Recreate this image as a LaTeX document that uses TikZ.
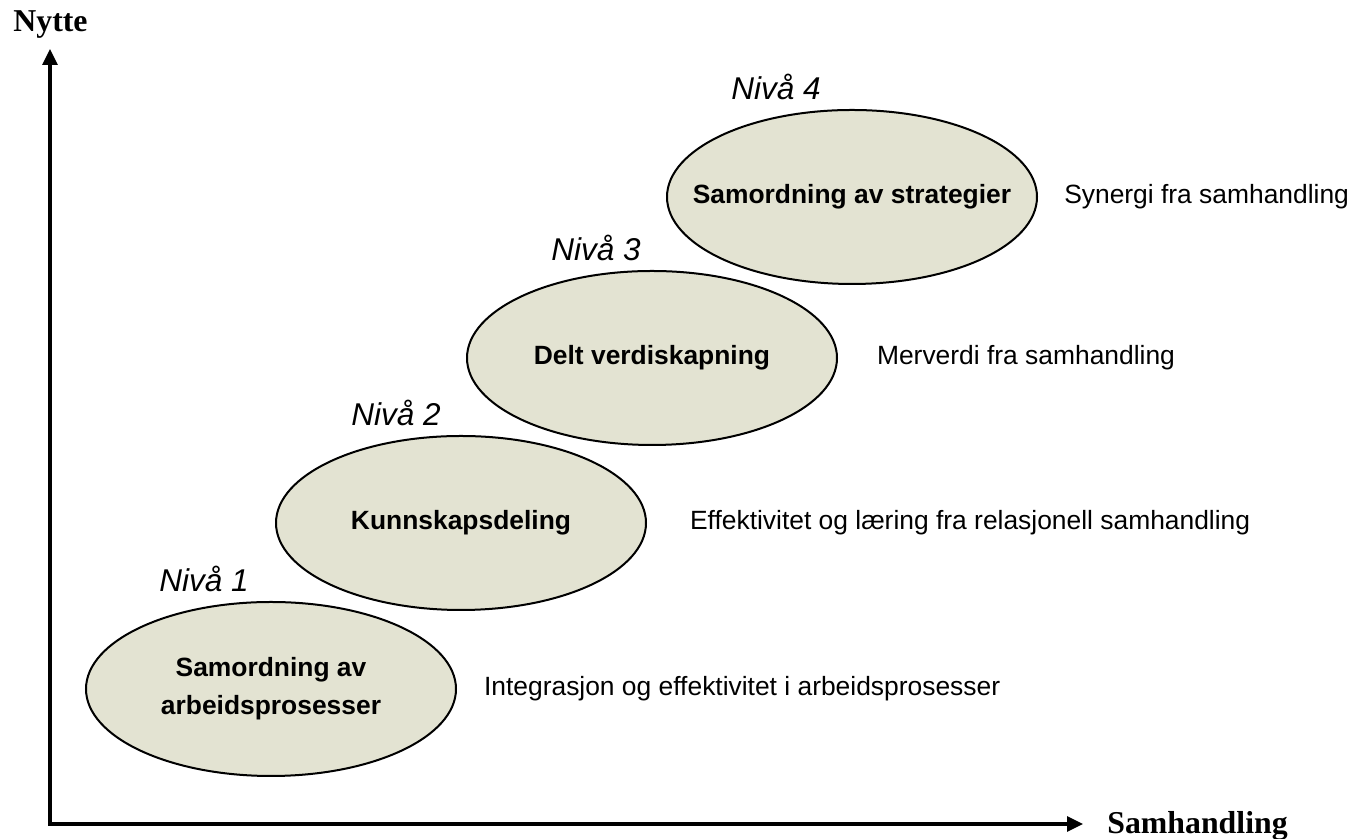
\documentclass[tikz,border=0pt]{standalone}
\usepackage{fontspec}
\setmainfont{Liberation Sans}
\newfontfamily\axisfont{Liberation Serif}
\usetikzlibrary{arrows.meta,shapes.geometric,positioning}
\definecolor{levelfill}{RGB}{227,227,210}
\tikzstyle{line} = [draw, line width=1.6pt, {Triangle[length=8pt,width=7.5pt]}-{Triangle[length=8pt,width=7.5pt]}]
\tikzstyle{level} = [ellipse, draw, line width=1pt, fill=levelfill, minimum width=185pt, minimum height=87pt, inner sep=0pt]
\tikzstyle{levelname} = [align=center, font=\bfseries\fontsize{13.2}{19}\selectfont]
\tikzstyle{niva} = [anchor=base west, inner sep=0pt, font=\itshape\fontsize{15.75}{19}\selectfont]
\tikzstyle{gain} = [font=\fontsize{13.2}{16}\selectfont]
\tikzstyle{axislabel} = [anchor=base west, inner sep=0pt, font=\axisfont\bfseries\fontsize{15.9}{19}\selectfont]

\begin{document}
\begin{tikzpicture}[x=0.5pt,y=0.5pt]
        \useasboundingbox (0,0) rectangle (1355,839);
        % axes
        \coordinate (o) at (50,15);
        \coordinate (yt) at (50,790);
        \coordinate (xt) at (1083,15);
        \draw [line] (yt) -- (o) -- (xt);
        \node [axislabel] (n) at (13,807) {Nytte};
        \node [axislabel] (s) at (1107,5) {Samhandling};
        % levels
        \node [level] (1) at (271,150) {};
        \node [level] (2) at (461,316) {};
        \node [level] (3) at (652,481) {};
        \node [level] (4) at (852,642) {};
        \node [levelname] (t1) at (1) {Samordning av\\arbeidsprosesser};
        \node [levelname] (t2) at (2) {Kunnskapsdeling};
        \node [levelname] (t3) at (3) {Delt verdiskapning};
        \node [levelname] (t4) at (4) {Samordning av strategier};
        \node [niva] (l1) at (159,247) {Nivå 1};
        \node [niva] (l2) at (351,413) {Nivå 2};
        \node [niva] (l3) at (551,578) {Nivå 3};
        \node [niva] (l4) at (731,739) {Nivå 4};
        % gains
        \node [gain, right = 10pt of 1] (g1) {Integrasjon og effektivitet i arbeidsprosesser};
        \node [gain, right = 18pt of 2] (g2) {Effektivitet og læring fra relasjonell samhandling};
        \node [gain, right = 16pt of 3] (g3) {Merverdi fra samhandling};
        \node [gain, right = 9.6pt of 4] (g4) {Synergi fra samhandling};
\end{tikzpicture}
\end{document}
